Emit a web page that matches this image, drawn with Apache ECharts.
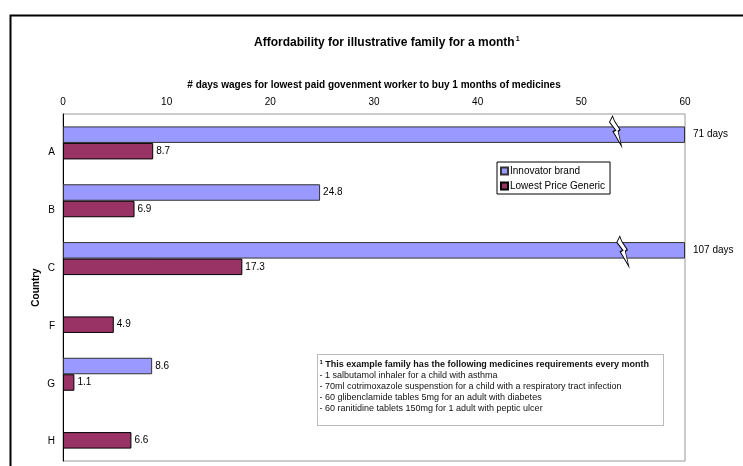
<!DOCTYPE html>
<html>
<head>
<meta charset="utf-8">
<script src="https://cdn.jsdelivr.net/npm/echarts@6/dist/echarts.min.js"></script>
<style>
html,body{margin:0;padding:0;background:#fff;}
#main{width:743px;height:466px;}
</style>
</head>
<body>
<div id="main"></div>
<script>
// countries, top to bottom
var countries = ['A', 'B', 'C', 'F', 'G', 'H'];
// days of wages, null = no value shown
var innovator = [71, 24.8, 107, null, 8.6, null];
var generic = [8.7, 6.9, 17.3, 4.9, 1.1, 6.6];
var xTicks = [0, 10, 20, 30, 40, 50, 60];
var xMax = 60;
// where the axis-break bolts sit on the capped bars
var breakCats = ['A', 'C'];
var breakAt = [53.3, 54.0];
var breakShift = [-3.5, 1];
var noteLines = [
	'- 1 salbutamol inhaler for a child with asthma',
	'- 70ml cotrimoxazole suspenstion for a child with a respiratory tract infection',
	'- 60 glibenclamide tables 5mg for an adult with diabetes',
	'- 60 ranitidine tablets 150mg for 1 adult with peptic ulcer'
];

var font = 'Liberation Sans, Arial, sans-serif';
var myChart = echarts.init(document.getElementById('main'));

var innoData = [];
for (var i = 0; i < innovator.length; i++) {
	var v = innovator[i];
	if (v == null) { innoData.push(null); continue; }
	if (v > xMax) {
		innoData.push({value: xMax, label: {formatter: v + ' days', distance: 8}});
	} else {
		innoData.push(v);
	}
}
var bolts = [];
for (var j = 0; j < breakCats.length; j++) {
	bolts.push({coord: [breakAt[j], breakCats[j]], symbolOffset: [0, breakShift[j]]});
}

var noteText = '{sup|1} {b|This example family has the following medicines requirements every month}\n' + noteLines.join('\n');

var option = {
	animation: false,
	textStyle: {fontFamily: font},
	title: {
		text: 'Affordability for illustrative family for a month{sup|1}',
		left: 249, top: 31,
		textStyle: {
			fontSize: 12, fontWeight: 'bold', color: '#000', fontFamily: font,
			rich: {sup: {fontSize: 7, fontWeight: 'bold', color: '#000', padding: [0, 0, 7, 1]}}
		}
	},
	legend: {
		orient: 'vertical',
		left: 497, top: 162,
		borderColor: '#000', borderWidth: 1, borderRadius: 0,
		padding: [4, 5, 3, 3],
		itemWidth: 7, itemHeight: 7, itemGap: 5,
		icon: 'rect',
		textStyle: {fontSize: 10, color: '#000', padding: [0, 0, 0, -3]},
		data: ['Innovator brand', 'Lowest Price Generic']
	},
	grid: {
		left: 63, right: 58, top: 114, bottom: 5,
		show: true, borderColor: '#999', borderWidth: 1
	},
	xAxis: {
		type: 'value', position: 'top',
		min: 0, max: xMax, interval: 10,
		name: '# days wages for lowest paid govenment worker to buy 1 months of medicines',
		nameLocation: 'middle', nameGap: 24,
		nameTextStyle: {fontSize: 10, fontWeight: 'bold', color: '#000'},
		axisLine: {lineStyle: {color: '#000'}},
		axisTick: {length: 4, lineStyle: {color: '#000'}},
		axisLabel: {fontSize: 10, color: '#000', margin: 7,
			formatter: function (val) { return xTicks.indexOf(val) >= 0 ? val : ''; }},
		splitLine: {show: false}
	},
	yAxis: {
		type: 'category', inverse: true,
		data: countries,
		name: 'Country', nameLocation: 'middle', nameRotate: 90, nameGap: 22,
		nameMoveOverlap: false,
		nameTextStyle: {fontSize: 10, fontWeight: 'bold', color: '#000'},
		axisLine: {lineStyle: {color: '#000'}},
		axisTick: {length: 4, lineStyle: {color: '#000'}},
		axisLabel: {fontSize: 10, color: '#000', margin: 8,
			formatter: function (val) { return '{c|' + val + '}'; },
			rich: {c: {fontSize: 10, color: '#000', padding: [19, 0, 0, 0]}}}
	},
	series: [
		{
			name: 'Innovator brand', type: 'bar',
			barWidth: 16.5, barGap: '0%',
			itemStyle: {color: '#9999FF', borderColor: '#333', borderWidth: 1},
			label: {show: true, position: 'right', distance: 3, fontSize: 10, color: '#000'},
			data: innoData,
			markPoint: {
				symbol: 'path://M3,0 L0,6 L6,14 L3.5,15.5 L12,30 L8.5,15 L10.5,13.5 L5,5 Z',
				symbolSize: [12, 30],
				itemStyle: {color: '#fff', borderColor: '#000', borderWidth: 1},
				label: {show: false},
				data: bolts
			}
		},
		{
			name: 'Lowest Price Generic', type: 'bar',
			barWidth: 16.5, barGap: '0%',
			itemStyle: {color: '#993366', borderColor: '#000', borderWidth: 1},
			label: {show: true, position: 'right', distance: 3, fontSize: 10, color: '#000'},
			data: generic
		}
	],
	graphic: [
		{
			type: 'rect', left: 8, top: 13, z: 100,
			shape: {x: 0, y: 0, width: 800, height: 500},
			style: {fill: 'none', stroke: '#000', lineWidth: 2}
		},
		{
			type: 'group', left: 317, top: 354, z: 100,
			children: [
				{
					type: 'rect',
					shape: {x: 0, y: 0, width: 346, height: 71},
					style: {fill: '#fff', stroke: '#777', lineWidth: 1, lineDash: [1, 1]}
				},
				{
					type: 'text', x: 2, y: 5,
					style: {
						text: noteText, fontSize: 9, lineHeight: 11, fill: '#111', fontFamily: font,
						rich: {
							sup: {fontSize: 6, fontWeight: 'bold', padding: [0, 0, 5, 0]},
							b: {fontSize: 9, fontWeight: 'bold', lineHeight: 11}
						}
					}
				}
			]
		}
	]
};
myChart.setOption(option);
</script>
</body>
</html>
